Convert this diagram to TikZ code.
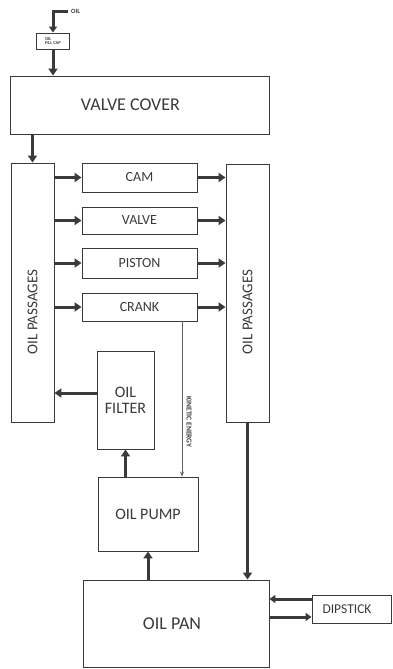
\documentclass[tikz,border=0pt]{standalone}
\usepackage{fontspec}
\setmainfont{Carlito}
\usetikzlibrary{arrows.meta}
\definecolor{ink}{HTML}{3A3A3A}
\tikzset{
  box/.style={draw=ink, line width=0.9pt, inner sep=0pt, text=ink, align=center},
  flow/.style={draw=ink, line width=3pt, -{Triangle[length=7pt,width=9pt]}},
  thinflow/.style={draw=ink!80, line width=0.7pt, -{Stealth[length=5pt,width=4pt]}},
  lbl/.style={text=ink, inner sep=0pt}
}
\begin{document}
\begin{tikzpicture}[x=1pt,y=-1pt]
\useasboundingbox (0,0) rectangle (392,669);
% boxes
\node[box, minimum width=33pt, minimum height=16pt, font=\fontsize{4.5}{4.5}\selectfont\bfseries, align=left] (cap) at (53,41) {OIL\\FILL CAP};
\node[box, minimum width=259pt, minimum height=58pt, font=\fontsize{18}{20}\selectfont] (vc) at (139.5,105) {\hspace*{-18pt}VALVE COVER};
\node[box, minimum width=43pt, minimum height=259pt] (lp) at (32.5,292.5) {};
\node[box, minimum width=43pt, minimum height=258pt] (rp) at (247.5,293) {};
\node[lbl, rotate=90, font=\fontsize{15}{15}\selectfont] (lpt) at (32.5,312) {OIL PASSAGES};
\node[lbl, rotate=90, font=\fontsize{15}{15}\selectfont] (rpt) at (247.5,312) {OIL PASSAGES};
\node[box, minimum width=115pt, minimum height=29pt, font=\fontsize{14}{14}\selectfont] (cam) at (139.5,177.5) {CAM};
\node[box, minimum width=115pt, minimum height=27pt, font=\fontsize{14}{14}\selectfont] (valve) at (139.5,220.5) {VALVE};
\node[box, minimum width=115pt, minimum height=30pt, font=\fontsize{14}{14}\selectfont] (piston) at (139.5,263) {PISTON};
\node[box, minimum width=115pt, minimum height=28pt, font=\fontsize{14}{14}\selectfont] (crank) at (139.5,307) {CRANK};
\node[box, minimum width=57pt, minimum height=98pt, font=\fontsize{16}{16}\selectfont] (filter) at (125.5,400) {OIL\\FILTER};
\node[box, minimum width=100pt, minimum height=74pt, font=\fontsize{16}{16}\selectfont] (pump) at (148,514) {OIL PUMP};
\node[box, minimum width=186pt, minimum height=87pt, font=\fontsize{18}{18}\selectfont] (pan) at (176,623.5) {\hspace*{-8pt}OIL PAN};
\node[box, minimum width=79pt, minimum height=28pt, font=\fontsize{13.5}{13.5}\selectfont] (dip) at (351.5,609) {\hspace*{-9pt}DIPSTICK};
% oil input
\coordinate (oilsrc) at (68,12);
\node[lbl, anchor=west, font=\fontsize{6.5}{6.5}\selectfont\bfseries] (oiltxt) at (71,11) {OIL};
\draw[flow, -{Triangle[length=6pt,width=8pt]}] (oilsrc) -| (cap.north);
\draw[flow] (cap.south) -- (cap.south |- vc.north);
\draw[flow] (lp.north |- vc.south) -- (lp.north);
% to components
\foreach \b in {cam,valve,piston,crank}{
  \draw[flow] (lp.east |- \b.west) -- (\b.west);
  \draw[flow] (\b.east) -- (\b.east -| rp.west);
}
% filter to passages
\path ([yshift=7pt]filter.west) coordinate (fw);
\draw[flow] (fw) -- (fw -| lp.east);
\draw[flow] (filter.south |- pump.north) -- (filter.south);
\draw[flow] (pump.south |- pan.north) -- (pump.south);
\draw[flow] (rp.south) -- (rp.south |- pan.north);
% kinetic energy
\path ([xshift=42.5pt]crank.south) coordinate (ke);
\draw[thinflow] (ke) -- (ke |- pump.north);
\node[lbl, rotate=-90, font=\fontsize{7.5}{7.5}\selectfont\bfseries] (ket) at (189,422) {KINETIC ENERGY};
% dipstick
\path ([yshift=10pt]dip.west) coordinate (d1);
\path ([yshift=-8pt]dip.west) coordinate (d2);
\draw[flow, -{Triangle[length=6pt,width=8pt]}] (d1) -- (d1 -| pan.east);
\draw[flow, -{Triangle[length=6pt,width=8pt]}] (d2 -| pan.east) -- (d2);
\end{tikzpicture}
\end{document}
